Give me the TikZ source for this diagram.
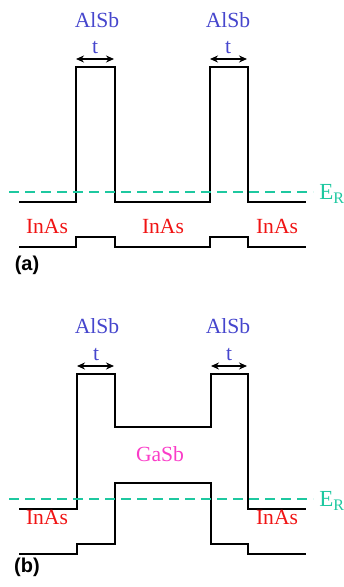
\documentclass[tikz,border=0pt]{standalone}
\usepackage{fontspec}
\setmainfont{Liberation Serif}
\newfontfamily\panelfont{Liberation Sans}
\usetikzlibrary{positioning,calc,arrows.meta}

\definecolor{alsbblue}{RGB}{70,70,205}
\definecolor{inasred}{RGB}{240,20,20}
\definecolor{gasbpink}{RGB}{250,60,200}
\definecolor{fermigreen}{RGB}{30,200,160}

\begin{document}
\begin{tikzpicture}[x=0.5pt,y=-0.5pt,
    every node/.style={font=\fontsize{10.8}{12}\selectfont, inner sep=0pt},
    band/.style={line width=0.7pt, line join=miter},
    fermi/.style={fermigreen, line width=0.7pt, dash pattern=on 5pt off 3pt},
    width/.style={{Stealth[length=4pt,width=3.5pt]}-{Stealth[length=4pt,width=3.5pt]}, line width=0.6pt},
    alsb/.style={text=alsbblue},
    inas/.style={text=inasred},
    gasb/.style={text=gasbpink},
    level/.style={text=fermigreen, anchor=west, font=\fontsize{11.5}{12}\selectfont},
    panel/.style={font=\panelfont\bfseries\fontsize{10}{12}\selectfont}]
    \useasboundingbox (0,0) rectangle (343,587);

    % (a) two AlSb barriers in InAs
    \draw[band] (19,202) -| (76,67) -| (115,202) -| (210,67) -| (248,202) -- (306,202);
    \draw[band] (19,247) -| (76,237) -| (115,247) -| (210,237) -| (248,247) -- (306,247);

    \node[level] (era) at (319,194) {E\textsubscript{R}};
    \draw[fermi] (9,192) -- (313,192);

    \node[alsb] (al1) at (97,20) {AlSb};
    \node[alsb] (al2) at (228,20) {AlSb};
    \node[alsb] (t1) at (95,48) {t};
    \node[alsb] (t2) at (228,48) {t};
    \coordinate (t1l) at (76,59);
    \coordinate (t1r) at (114,59);
    \coordinate (t2l) at (210,59);
    \coordinate (t2r) at (247,59);
    \draw[width] (t1l) -- (t1r);
    \draw[width] (t2l) -- (t2r);

    \node[inas] (ina1) at (47,226) {InAs};
    \node[inas] (ina2) at (163,226) {InAs};
    \node[inas] (ina3) at (277,226) {InAs};
    \node[panel] (pa) at (27,265) {(a)};

    % (b) GaSb well between the barriers
    \draw[band] (19,509) -| (77,374) -| (115,427) -| (211,374) -| (248,509) -- (306,509);
    \draw[band] (19,554) -| (77,544) -| (115,483) -| (211,544) -| (248,554) -- (306,554);

    \node[level] (erb) at (319,501) {E\textsubscript{R}};
    \draw[fermi] (9,499) -- (313,499);

    \node[alsb] (al3) at (97,326) {AlSb};
    \node[alsb] (al4) at (228,326) {AlSb};
    \node[alsb] (t3) at (96,355) {t};
    \node[alsb] (t4) at (229,355) {t};
    \coordinate (t3l) at (77,366);
    \coordinate (t3r) at (114,366);
    \coordinate (t4l) at (211,366);
    \coordinate (t4r) at (247,366);
    \draw[width] (t3l) -- (t3r);
    \draw[width] (t4l) -- (t4r);

    \node[gasb] (ga) at (160,454) {GaSb};
    \node[inas] (ina4) at (47,517) {InAs};
    \node[inas] (ina5) at (277,517) {InAs};
    \node[panel] (pb) at (27,567) {(b)};
\end{tikzpicture}
\end{document}
